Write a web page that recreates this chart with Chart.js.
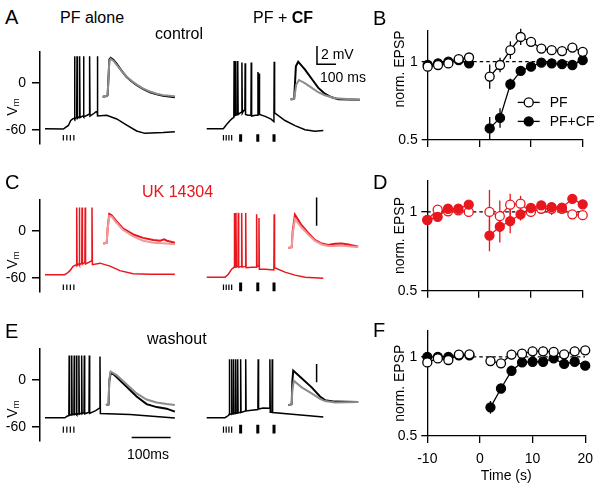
<!DOCTYPE html>
<html>
<head>
<meta charset="utf-8">
<script src="https://cdn.jsdelivr.net/npm/chart.js@4.4.1/dist/chart.umd.min.js"></script>
<style>
  body { margin: 0; background: #fff; width: 601px; height: 489px; position: relative; overflow: hidden;
         font-family: 'Liberation Sans', Arial, sans-serif; color: #000; }
  canvas { position: absolute; }
  .lbl { position: absolute; white-space: nowrap; line-height: 1; transform: translateY(-50%); }
  .letter { font-size: 20px; }
  .ttl { font-size: 16px; }
  .small { font-size: 14px; }
  .vm { position: absolute; font-size: 14px; line-height: 1; white-space: nowrap;
        transform: translate(-50%, -50%) rotate(-90deg); }
  .vm sub { font-size: 70%; vertical-align: -0.25em; }
</style>
</head>
<body>

<canvas id="trA" width="400" height="121" style="left:0;top:37px"></canvas>
<canvas id="trC" width="400" height="121" style="left:0;top:185px"></canvas>
<canvas id="trE" width="400" height="121" style="left:0;top:334px"></canvas>
<canvas id="epB" width="211" height="140" style="left:390px;top:18px"></canvas>
<canvas id="epD" width="211" height="140" style="left:390px;top:168px"></canvas>
<canvas id="epF" width="211" height="171" style="left:390px;top:318px"></canvas>

<div class="lbl letter" style="left:5px;top:17px">A</div>
<div class="lbl ttl" style="left:60px;top:18px">PF alone</div>
<div class="lbl ttl" style="left:155px;top:34px">control</div>
<div class="lbl ttl" style="left:253px;top:18px">PF + <b>CF</b></div>
<div class="lbl small" style="left:321px;top:54px">2 mV</div>
<div class="lbl small" style="left:320px;top:77px">100 ms</div>
<div class="lbl letter" style="left:373px;top:18px">B</div>

<div class="lbl letter" style="left:5px;top:182px">C</div>
<div class="lbl ttl" style="left:142px;top:192px;color:#e8161d">UK 14304</div>
<div class="lbl letter" style="left:373px;top:182px">D</div>

<div class="lbl letter" style="left:5px;top:331px">E</div>
<div class="lbl ttl" style="left:147px;top:339px">washout</div>
<div class="lbl small" style="left:127px;top:454px">100ms</div>
<div class="lbl letter" style="left:373px;top:330px">F</div>

<div class="vm" style="left:13px;top:107px">V<sub>m</sub></div>
<div class="vm" style="left:13px;top:260px">V<sub>m</sub></div>
<div class="vm" style="left:13px;top:409px">V<sub>m</sub></div>

<script>
// ---- membrane potential sweeps: [ms from sweep start, mV] ----
const A_PF = [[0,-58],[47,-58.5],[60,-54],[66,-47.7],[72.6,-45],[75,-45],[75.8,33.7],[76.8,-46],[79,-44.5],[81.3,-44],[82.1,33.7],[83.1,-45],[86,-43.5],[88,-43],[88.8,33.7],[89.8,-44],[95,-42.5],[98,-42],[98.8,33.7],[99.8,-43],[108,-41],[113.6,-39.5],[114.4,33.7],[115.4,-42],[126,-38.5],[133.5,-35.5],[134.3,33.7],[135.3,-42],[158,-41],[184,-45.7],[209.5,-53.5],[235,-61],[256,-64],[303,-63],[333,-62]];
const A_CF = [[0,-58],[42.6,-58],[51,-52.7],[60,-47.7],[65.6,-45],[69.5,-44],[70.3,27.9],[71.3,-42],[73.8,-41],[74.6,27.9],[75.6,-40.5],[78.8,-39.5],[79.6,27.9],[80.6,-40],[86,-38],[89.5,-37],[90.3,26],[91.3,-38.5],[95,-35],[97.8,-35],[98.6,25],[99.6,-40],[106,-41],[113.4,-41],[114.2,26],[115.2,-42],[125,-41],[130.6,-41],[131.4,14],[132.4,-39],[133.6,-38],[134.4,12],[135.4,-40],[150,-42.5],[165,-46],[172.3,-49],[173.1,27],[174.1,-38],[200.8,-47.7],[226.4,-54.2],[252,-59.3],[277.7,-61.2],[299,-60.5]];
const C_PF = [[0,-55.5],[50,-55.5],[56,-54],[64,-50.4],[72,-45],[80.5,-43],[81.3,29.8],[82.3,-44],[86,-42],[87.2,-41.5],[88,29.8],[89,-43],[94.2,-41],[95,29.8],[96,-42],[102.2,-40],[103,29.8],[104,-42],[112,-40],[119.7,-38],[120.5,29.8],[121.5,-42.8],[141,-40.9],[166.7,-44.7],[192,-50.4],[226,-54.3],[269,-55],[333,-55]];
const C_CF = [[0,-58.8],[47,-58.8],[55.4,-55],[64,-48.5],[70,-46],[70.8,22.9],[71.8,-46],[74.2,-45],[75,22.9],[76,-46],[80.2,-45],[81,22.9],[82,-46],[88.9,-45],[89.7,22.9],[90.7,-46],[99.2,-45],[100,22.9],[101,-46.6],[115,-46],[127.2,-46],[128,21],[129,-44],[133.2,-45],[134,16.4],[135,-48.5],[150,-48.5],[172.2,-49.6],[173,21.3],[174,-46.6],[200.8,-52.3],[226.4,-56.1],[252,-58.8],[299,-60]];
const E_PF = [[0,-48],[51,-48],[55.6,-46.4],[61.2,-45],[62,30.9],[63,-45],[67.7,-44],[68.5,30.9],[69.5,-44.5],[74.2,-43.5],[75,30.9],[76,-44],[80.2,-43],[81,30.9],[82,-44],[86.2,-42.5],[87,30.9],[88,-43.5],[93.2,-42],[94,30.9],[95,-43],[100,-41.5],[100.8,30.9],[101.8,-43],[112.8,-41],[113.6,30.9],[114.6,-42.5],[130,-39],[140.2,-35.6],[141,29.7],[142,-42.6],[218,-44],[333,-48.4]];
const E_CF = [[0,-48],[47,-48],[55.4,-45.2],[57.2,-44],[58,26.2],[59,-44],[63.2,-43],[64,26.2],[65,-43.5],[68.2,-42.5],[69,26.2],[70,-43],[73.6,-42],[74.4,26.2],[75.4,-42.5],[78.7,-41.5],[79.5,26.2],[80.5,-42],[86.2,-41],[87,26.2],[88,-41.4],[99.2,-39.5],[100,26.2],[101,-39.4],[115,-38.5],[131.2,-37.6],[132,26.2],[133,-37],[145,-35.6],[161.2,-36],[162,26.2],[163,-41],[167.2,-41],[168,26.2],[169,-41.4],[226.4,-44],[299,-47.2]];

// ---- EPSP insets: [ms from inset start, mV above baseline] ----
const A_PF_IN1 = [[0,0],[21,0.07],[26,0.17],[35,4.07],[42,4.27],[56,4.07],[74,3.6],[100,2.84],[126,2.17],[153,1.67],[179,1.27],[214,0.84],[249,0.5],[284,0.27],[318,0.1],[380,-0.06]];
const A_PF_IN2 = [[0,0],[21,0.07],[26,0.17],[35,3.9],[42,4.15],[56,3.95],[74,3.5],[100,2.8],[126,2.2],[153,1.72],[179,1.33],[214,0.9],[249,0.57],[284,0.33],[318,0.18],[380,0.05]];
const A_CF_IN1 = [[0,0],[8,0],[19,0.07],[28,3.6],[40,4.1],[75,3.26],[110,2.26],[145,1.26],[180,0.6],[216,0.2],[251,0],[365,-0.07]];
const A_CF_IN2 = [[0,0],[8,0],[19,0.07],[30,1.6],[44,2.1],[75,1.76],[110,1.26],[145,0.76],[180,0.43],[233,0.1],[365,-0.07]];
const C_PF_IN1 = [[0,0],[18,0.04],[23,1.07],[31.6,2.1],[44,2.0],[70.5,1.56],[105,1.05],[158,0.64],[210,0.4],[263,0.25],[300,0.2],[320,0.3],[335,0.2],[377,0.05]];
const C_PF_IN2 = [[0,0],[18,0.04],[23,1.0],[31.6,1.95],[44,1.9],[70.5,1.45],[105,0.95],[158,0.5],[210,0.2],[263,0.05],[333,0],[377,-0.05]];
const C_CF_IN1 = [[0,0],[18,0.06],[23,1.18],[35,2.36],[70,1.61],[105,1.07],[140,0.58],[176,0.32],[210,0.21],[246,0.3],[281,0.32],[316,0.25],[368,0.1]];
const C_CF_IN2 = [[0,0],[18,0.06],[23,1.0],[35,2.04],[70,1.45],[105,0.95],[140,0.5],[176,0.25],[210,0.15],[246,0.15],[281,0.18],[316,0.12],[368,0.05]];
const E_PF_IN1 = [[0,0],[14,0.07],[17.5,2.6],[24.6,3.45],[38.6,3.4],[56,3.05],[109,2.0],[161.6,0.93],[214,0.1],[267,-0.23],[319.5,-0.4],[363,-0.73]];
const E_PF_IN2 = [[0,0],[14,0.07],[17.5,2.7],[24.6,3.67],[38.6,3.5],[56,3.27],[109,2.27],[161.6,1.27],[214,0.6],[267,0.27],[319.5,0.1],[363,0]];
const E_CF_IN1 = [[0,0],[7,0],[18,0.1],[21,2.5],[26,3.77],[70.5,2.93],[123,1.93],[167,0.93],[193,0.53],[246,0.37],[368,0.33]];
const E_CF_IN2 = [[0,0],[7,0],[18,0.1],[21,1.5],[29,2.67],[70.5,1.93],[123,1.27],[167,0.67],[193,0.43],[246,0.27],[368,0.33]];

// stimulus times (ms from sweep start)
const PF_STIM_ALONE = [47, 56, 65, 74];
const PF_STIM_PAIRED = [43, 50, 57, 64];
const CF_STIM = [87, 131, 172.6];
const VM_TICKS = [-60, 0];

// ---- normalised EPSP vs time ----
const TIME = [-10, -8, -6, -4, -2, 2, 4, 6, 8, 10, 12, 14, 16, 18, 20];
const B_PF     = [0.968, 0.979, 0.989, 1.017, 1.027, 0.905, 0.979, 1.074, 1.158, 1.127, 1.084, 1.074, 1.068, 1.09, 1.063];
const B_PF_ERR = [0.02, 0.015, 0.015, 0.015, 0.015, 0.078, 0.047, 0.056, 0.052, 0.02, 0.015, 0.015, 0.015, 0.015, 0.015];
const B_CF     = [0.98, 0.99, 1.0, 1.01, 0.99, 0.574, 0.641, 0.856, 0.941, 0.968, 0.994, 0.99, 0.985, 0.979, 1.01];
const B_CF_ERR = [0.01, 0.01, 0.01, 0.01, 0.01, 0.073, 0.062, 0.036, 0.02, 0.015, 0.01, 0.01, 0.01, 0.01, 0.01];
const D_PF     = [0.95, 1.014, 1.004, 1.01, 1.0, 1.0, 0.973, 1.046, 1.052, 1.0, 1.02, 1.02, 1.02, 0.985, 0.979];
const D_PF_ERR = [0.02, 0.02, 0.02, 0.02, 0.02, 0.14, 0.1, 0.07, 0.05, 0.03, 0.03, 0.04, 0.02, 0.02, 0.02];
const D_CF     = [0.948, 0.969, 1.02, 1.02, 1.046, 0.85, 0.906, 0.942, 0.985, 1.025, 1.042, 1.031, 1.027, 1.083, 1.048];
const D_CF_ERR = [0.02, 0.02, 0.02, 0.02, 0.02, 0.1, 0.1, 0.077, 0.04, 0.02, 0.02, 0.02, 0.02, 0.02, 0.02];
const F_PF     = [0.965, 0.99, 0.98, 1.014, 1.016, 0.973, 0.959, 1.014, 1.02, 1.035, 1.035, 1.031, 1.016, 1.035, 1.041];
const F_PF_ERR = [0.015, 0.015, 0.015, 0.015, 0.015, 0.02, 0.02, 0.03, 0.03, 0.03, 0.03, 0.03, 0.02, 0.03, 0.02];
const F_CF     = [1.0, 1.0, 1.0, 1.01, 1.01, 0.681, 0.80, 0.912, 0.965, 0.969, 0.969, 0.99, 0.955, 0.969, 0.944];
const F_CF_ERR = [0.01, 0.01, 0.01, 0.01, 0.01, 0.04, 0.03, 0.02, 0.02, 0.02, 0.02, 0.02, 0.02, 0.02, 0.02];
const Y_TICKS = [0.5, 1];

const RED = '#e8161d', PINK = '#f29a9a', GRAY = '#8c8c8c';

Chart.defaults.font.family = "'Liberation Sans', Arial, sans-serif";
Chart.defaults.font.size = 14;
Chart.defaults.color = '#000';

// where each sweep / inset sits on the shared axes
const SWEEP_T0 = [12.8, 427.4];

function sweep(trace, t0) { return trace.map(p => ({ x: p[0] + t0, y: p[1] })); }
function inset(trace, t0, v0) { return trace.map(p => ({ x: p[0] + t0, y: p[1] + v0 })); }
function marks(times, t0, lo, hi) {
  const out = [];
  times.forEach(t => { out.push({ x: t + t0, y: lo }, { x: t + t0, y: hi }, { x: t + t0, y: null }); });
  return out;
}
function line(data, color, width, extra) {
  return Object.assign({ data, borderColor: color, borderWidth: width, showLine: true, pointRadius: 0,
    pointHitRadius: 0, spanGaps: false, tension: 0 }, extra || {});
}

function traceChart(id, r) {
  const inAx = { xAxisID: 'x2', yAxisID: 'y2' };
  // lower "order" is painted last, so the lighter inset trace sits on top
  const ds = [
    line(sweep(r.pf, SWEEP_T0[0]), r.color, 1.5, { order: 3 }),
    line(sweep(r.cf, SWEEP_T0[1]), r.color, 1.5, { order: 3 }),
    line(inset(r.inPF[0], r.insetAt[0][0], r.insetAt[0][1]), r.inColors[0], 2, { ...inAx, order: 2 }),
    line(inset(r.inPF[1], r.insetAt[0][0], r.insetAt[0][1]), r.inColors[1], 2, { ...inAx, order: 1 }),
    line(inset(r.inCF[0], r.insetAt[1][0], r.insetAt[1][1]), r.inColors[0], 2, { ...inAx, order: 2 }),
    line(inset(r.inCF[1], r.insetAt[1][0], r.insetAt[1][1]), r.inColors[1], 2, { ...inAx, order: 1 }),
    line(marks(PF_STIM_ALONE, SWEEP_T0[0], r.ticks[0], r.ticks[1]), '#000', 1.2, { clip: false }),
    line(marks(PF_STIM_PAIRED, SWEEP_T0[1], r.ticks[0], r.ticks[1]), '#000', 1.2, { clip: false }),
    line(marks(CF_STIM, SWEEP_T0[1], r.bars[0], r.bars[1]), '#000', 3, { clip: false })
  ];
  // 2 mV scale bar (and 100 ms in A)
  const sb = [{ x: r.vbar[0], y: r.vbar[1] + 2 }, { x: r.vbar[0], y: r.vbar[1] }];
  if (r.hbar) sb.push({ x: r.vbar[0] + 100, y: r.vbar[1] });
  ds.push(line(sb, '#000', 1.5, { ...inAx, clip: false }));
  if (r.timeBar) ds.push(line([{ x: r.timeBar[0], y: r.timeBar[2] }, { x: r.timeBar[1], y: r.timeBar[2] }], '#000', 1.5, { clip: false }));

  new Chart(document.getElementById(id), {
    type: 'scatter',
    data: { datasets: ds },
    options: {
      responsive: false, animation: false, events: [],
      layout: { padding: { top: 10, bottom: 10, left: 0, right: 0 }, autoPadding: false },
      plugins: { legend: { display: false }, tooltip: { enabled: false } },
      scales: {
        x: { type: 'linear', display: false, min: 0, max: 923 },
        x2: { type: 'linear', display: false, min: 0, max: 1895 },
        y: {
          min: -77, max: 40,
          afterFit: s => { s.width = 40; },
          afterBuildTicks: s => { s.ticks = VM_TICKS.map(v => ({ value: v })); },
          grid: { drawOnChartArea: false, color: '#000', lineWidth: 1.5, tickLength: 8 },
          border: { color: '#000', width: 1.5 },
          ticks: { padding: 6, font: { size: 14 } }
        },
        y2: { display: false, min: 0, max: r.y2max }
      }
    }
  });
}

traceChart('trA', {
  color: '#000', inColors: ['#000', GRAY], pf: A_PF, cf: A_CF,
  inPF: [A_PF_IN1, A_PF_IN2], inCF: [A_CF_IN1, A_CF_IN2],
  y2max: 10.1, insetAt: [[330, 5.13], [1319, 4.87]],
  ticks: [-66, -73], bars: [-65, -74.5], vbar: [1458, 8.7], hbar: true
});
traceChart('trC', {
  color: RED, inColors: [RED, PINK], pf: C_PF, cf: C_CF,
  inPF: [C_PF_IN1, C_PF_IN2], inCF: [C_CF_IN1, C_CF_IN2],
  y2max: 6.52, insetAt: [[333, 3.4], [1307, 3.08]],
  ticks: [-68, -75], bars: [-65.5, -76.5], vbar: [1456, 4.65]
});
traceChart('trE', {
  color: '#000', inColors: ['#000', GRAY], pf: E_PF, cf: E_CF,
  inPF: [E_PF_IN1, E_PF_IN2], inCF: [E_CF_IN1, E_CF_IN2],
  y2max: 10.1, insetAt: [[347, 3.9], [1307, 3.9]],
  ticks: [-59, -67], bars: [-57, -68], vbar: [1456, 6.4], timeBar: [235, 335, -73.2]
});

// ---- EPSP panels ----
const errorBars = {
  id: 'errorBars',
  beforeDatasetsDraw(chart) {
    const { ctx } = chart, xs = chart.scales.x, ys = chart.scales.y;
    chart.data.datasets.forEach(ds => {
      if (!ds.hasErr) return;
      ctx.save();
      ctx.strokeStyle = ds.borderColor; ctx.lineWidth = 1.3;
      ds.data.forEach(p => {
        if (p.y == null) return;
        const x = xs.getPixelForValue(p.x);
        ctx.beginPath();
        ctx.moveTo(x, ys.getPixelForValue(p.y - p.e));
        ctx.lineTo(x, ys.getPixelForValue(p.y + p.e));
        ctx.stroke();
      });
      ctx.restore();
    });
  }
};

const pfLegend = {
  id: 'pfLegend',
  afterDraw(chart) {
    const { ctx, chartArea } = chart;
    const x0 = chartArea.left + 90, x1 = x0 + 22, tx = x0 + 32;
    [['PF', '#fff', 72], ['PF+CF', '#000', 91]].forEach(([txt, fill, dy]) => {
      const y = chartArea.top + dy;
      ctx.save();
      ctx.strokeStyle = '#000'; ctx.lineWidth = 1.3;
      ctx.beginPath(); ctx.moveTo(x0, y); ctx.lineTo(x1, y); ctx.stroke();
      ctx.beginPath(); ctx.arc((x0 + x1) / 2, y, 4.5, 0, Math.PI * 2);
      ctx.fillStyle = fill; ctx.fill(); ctx.stroke();
      ctx.fillStyle = '#000'; ctx.font = "14px 'Liberation Sans', Arial, sans-serif";
      ctx.textBaseline = 'middle'; ctx.fillText(txt, tx, y + 0.5);
      ctx.restore();
    });
  }
};

function points(vals, errs) {
  const pts = TIME.map((t, i) => ({ x: t, y: vals[i], e: errs[i] }));
  pts.splice(5, 0, { x: 0, y: null, e: 0 });   // gap during conditioning
  return pts;
}

function epspChart(id, p) {
  const ds = [
    { data: [{ x: -10, y: 1 }, { x: 20, y: 1 }], borderColor: '#000', borderWidth: 1.3, borderDash: [3.5, 3],
      showLine: true, pointRadius: 0, order: 5 },
    { data: points(p.cf, p.cfErr), hasErr: true, borderColor: p.color, backgroundColor: p.color,
      pointBackgroundColor: p.color, pointBorderColor: p.color, pointRadius: 4.5, pointBorderWidth: 1.3,
      borderWidth: 1.3, showLine: true, spanGaps: false, clip: false, order: p.openTop ? 2 : 1 },
    { data: points(p.pf, p.pfErr), hasErr: true, borderColor: p.color, backgroundColor: '#fff',
      pointBackgroundColor: '#fff', pointBorderColor: p.color, pointRadius: 4.5, pointBorderWidth: 1.3,
      borderWidth: 1.3, showLine: true, spanGaps: false, clip: false, order: p.openTop ? 1 : 2 }
  ];
  new Chart(document.getElementById(id), {
    type: 'scatter',
    data: { datasets: ds },
    plugins: p.legend ? [errorBars, pfLegend] : [errorBars],
    options: {
      responsive: false, animation: false, events: [],
      layout: { padding: { top: 10, right: p.padRight, bottom: 0, left: 0 }, autoPadding: false },
      plugins: { legend: { display: false }, tooltip: { enabled: false } },
      scales: {
        x: {
          type: 'linear', min: -10, max: 20,
          afterFit: s => { s.height = p.xh; },
          afterBuildTicks: s => { s.ticks = [-10, 0, 10, 20].map(v => ({ value: v })); },
          grid: { drawOnChartArea: false, color: '#000', lineWidth: 1.3, tickLength: 7 },
          border: { color: '#000', width: 1.3 },
          ticks: { display: p.xLabels, padding: 8, maxRotation: 0 },
          title: { display: p.xLabels, text: 'Time (s)', padding: { top: 0, bottom: 4 } }
        },
        y: {
          min: 0.5, max: p.ymax,
          afterFit: s => { s.width = p.yw; },
          afterBuildTicks: s => { s.ticks = Y_TICKS.map(v => ({ value: v })); },
          grid: { drawOnChartArea: false, color: '#000', lineWidth: 1.3, tickLength: 6 },
          border: { color: '#000', width: 1.3 },
          ticks: { padding: 4, callback: v => String(v) },
          title: { display: true, text: 'norm. EPSP', align: p.titleAlign, padding: { top: 1.6, bottom: 0 } }
        }
      }
    }
  });
}

epspChart('epB', { color: '#000', pf: B_PF, pfErr: B_PF_ERR, cf: B_CF, cfErr: B_CF_ERR, openTop: true,
  legend: true, ymax: 1.2, yw: 37.7, xh: 18, padRight: 18.3, xLabels: false, titleAlign: 'end' });
epspChart('epD', { color: RED, pf: D_PF, pfErr: D_PF_ERR, cf: D_CF, cfErr: D_CF_ERR, openTop: false,
  ymax: 1.2, yw: 37.3, xh: 17.3, padRight: 18.3, xLabels: false, titleAlign: 'center' });
epspChart('epF', { color: '#000', pf: F_PF, pfErr: F_PF_ERR, cf: F_CF, cfErr: F_CF_ERR, openTop: true,
  ymax: 1.167, yw: 37.3, xh: 53, padRight: 13.7, xLabels: true, titleAlign: 'center' });
</script>
</body>
</html>
